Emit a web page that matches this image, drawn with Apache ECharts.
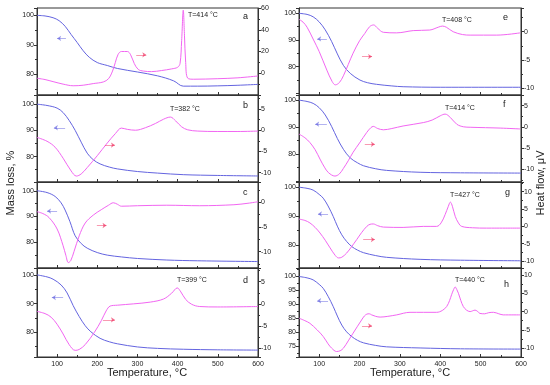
<!DOCTYPE html>
<html><head><meta charset="utf-8">
<script src="https://cdn.jsdelivr.net/npm/echarts@6/dist/echarts.min.js"></script>
<style>html,body{margin:0;padding:0;background:#fff}#c{width:550px;height:385px}</style>
</head><body><div id="c"></div>
<script>
// ---- data: [temperature °C, value] ----
const tgA = [[50,100],[70,99.8],[90,99.2],[105,98.2],[120,96.3],[135,93.5],[150,90.8],[165,88],[180,85.8],[200,84],[225,83],[250,82],[300,80.8],[350,79.5],[390,77.8],[414,76],[450,76],[500,76.1],[550,76.3],[600,76.6]];
const dtaA = [[50,-4.6],[70,-5.8],[90,-7.7],[115,-10],[140,-11.5],[165,-11],[190,-9.5],[215,-8],[228,-5],[238,2],[245,10],[252,17.5],[260,20],[275,20],[283,17],[292,9],[302,3.5],[315,2],[335,1.5],[360,2.5],[385,4],[400,5.5],[406,9],[410,30],[414,58],[417,35],[420,10],[425,-4.5],[440,-5.5],[500,-5],[550,-4.2],[600,-2.5]];
const tgB = [[50,100],[75,99.5],[100,98.5],[115,96.8],[130,93.8],[145,90],[160,85.5],[175,81.3],[190,78.8],[207,77.2],[230,76],[250,75.3],[300,74.3],[350,73.7],[414,73.1],[500,72.8],[600,72.6]];
const dtaB = [[50,-1.7],[75,-2.6],[95,-4],[115,-6.6],[135,-9.6],[148,-10.8],[160,-10.3],[175,-8.8],[200,-6],[225,-3],[245,-0.8],[260,0.5],[275,0.2],[295,0],[320,0.6],[345,1.6],[365,2.6],[382,3.1],[395,2.2],[410,0.8],[425,0.1],[450,-0.2],[500,-0.3],[550,-0.3],[600,-0.2]];
const tgC = [[50,100],[75,99.3],[95,97.8],[110,95.3],[120,92.5],[132,88],[145,82.5],[160,79.5],[175,77.7],[200,76],[225,75],[260,74.3],[300,73.7],[373,73.1],[450,72.8],[600,72.5]];
const dtaC = [[50,-1.9],[65,-2.3],[80,-3.1],[100,-5.4],[115,-8.8],[122,-10.8],[128,-12.2],[134,-11.8],[142,-10],[155,-6.8],[170,-4.2],[190,-2.6],[210,-1.5],[228,-0.6],[240,-0.1],[250,-0.4],[260,-0.8],[300,-0.7],[373,-0.6],[455,-0.7],[540,-0.5],[575,-0.2],[600,0.1]];
const tgD = [[50,100],[75,99.3],[90,98.5],[110,96.5],[125,93.7],[140,89.3],[155,85.5],[170,82.3],[184,80.2],[207,77.9],[230,76.7],[250,76],[300,74.9],[350,74.4],[414,74.1],[500,73.9],[600,73.8]];
const dtaD = [[50,-1.7],[70,-2.2],[85,-3],[100,-4.6],[115,-6.8],[130,-9.2],[145,-10.5],[155,-10.3],[170,-9.2],[193,-6.4],[210,-3.8],[222,-1.6],[232,-0.5],[250,-0.3],[290,0],[332,0.4],[365,1.1],[385,2.4],[399,3.6],[408,2.7],[420,1],[435,-0.1],[455,-0.6],[500,-0.7],[600,-0.6]];
const tgE = [[50,100],[70,99.6],[85,98.7],[100,96.8],[115,93.8],[131,89.4],[145,84.8],[160,80.5],[177,77.5],[201,75],[220,74],[242,73.4],[280,72.8],[308,72.5],[400,72.3],[600,72.3]];
const dtaE = [[50,2.2],[60,1.7],[70,0.8],[85,-1.3],[100,-3.5],[119,-6.8],[132,-8.8],[140,-9.4],[150,-9],[160,-7.8],[172,-5.8],[184,-3.8],[200,-1.6],[213,-0.3],[225,0.9],[235,1.2],[245,0.6],[259,-0.1],[292,-0.2],[333,0.2],[374,0.3],[395,0.8],[405,1],[415,0.8],[432,0],[455,-0.5],[474,-0.6],[540,-0.6],[598,-0.2]];
const tgF = [[50,100],[70,99.5],[85,98.8],[100,97.2],[115,94.5],[131,90.2],[145,85.8],[160,81.8],[177,78.6],[195,76.8],[210,75.7],[240,74.6],[267,74],[350,73.3],[450,73.1],[600,73]];
const dtaF = [[50,-1.7],[65,-2.6],[77,-3.7],[90,-5.4],[102,-7.6],[113,-9.5],[123,-10.8],[139,-11.6],[150,-11.1],[160,-9.8],[172,-8],[184,-6],[200,-3.8],[218,-1.3],[228,-0.2],[234,0.1],[245,-0.4],[259,-0.7],[280,-0.4],[308,0.2],[358,1],[380,1.6],[400,2.6],[412,3],[425,2.2],[441,0.6],[458,0],[474,-0.1],[550,-0.3],[598,-0.5]];
const tgG = [[50,100],[70,99.6],[85,99],[100,97.5],[110,96.2],[122,93.5],[135,89.8],[145,86.5],[156,83.5],[168,81.2],[181,79.4],[195,78.2],[210,77.3],[240,76.3],[267,75.7],[350,75],[450,74.7],[600,74.5]];
const dtaG = [[50,2.1],[65,1.7],[77,1],[90,-0.3],[102,-1.9],[115,-4],[127,-6.2],[140,-8.4],[148,-9.1],[156,-8.9],[168,-7.7],[180,-5.9],[193,-3.8],[205,-1.8],[218,0],[226,0.6],[234,0.7],[245,0.2],[259,-0.2],[308,-0.3],[358,0],[391,0],[402,1],[412,3.4],[420,5.8],[425,7],[430,5.8],[437,2.9],[445,1],[453,0],[480,-0.4],[515,-0.5],[598,-0.5]];
const tgH = [[50,99.8],[70,99.3],[85,98.6],[100,97],[110,95.6],[122,92.8],[135,89.1],[145,85.8],[156,82.6],[168,80.2],[181,78.5],[195,77.2],[210,76.3],[240,75.4],[267,74.9],[350,74.5],[450,74.2],[600,74.1]];
const dtaH = [[50,-1.8],[65,-2.5],[77,-3.2],[95,-5],[110,-6.8],[122,-8.8],[131,-10],[143,-10.9],[152,-10.7],[160,-10],[172,-8],[184,-5.9],[195,-4],[205,-2.3],[212,-1.2],[218,-0.7],[224,-0.6],[230,-0.9],[240,-1.3],[251,-1.5],[270,-1.3],[292,-0.9],[325,-0.2],[358,-0.2],[391,-0.2],[405,0.3],[416,1.4],[423,3],[428,4.6],[433,6],[437,6.7],[441,6],[445,5],[451,3],[457,1.4],[465,0.4],[474,0],[480,0.2],[486,0.4],[492,0.1],[498,-0.5],[510,-0.6],[520,-0.3],[532,-0.2],[545,-0.6],[556,-0.9],[598,-0.9]];

const panelLetters = ['a','b','c','d','e','f','g','h'];
const peakLabels = ['T=414 °C','T=382 °C','','T=399 °C','T=408 °C','T=414 °C','T=427 °C','T=440 °C'];
const xTitle = 'Temperature, °C';
const yLeftTitle = 'Mass loss, %';
const yRightTitle = 'Heat flow, μV';

// arrows: [tgFromT, tgToT, tgY, dtaFromT, dtaToT, dtaY]
const arrowPos = [
  [100,122,92.2, 297,322,16.9],
  [92,120,91, 219,244,-3.5],
  [75,100,92.1, 199,223,-4.7],
  [87,115,92.1, 214,244,-3.6],
  [95,119,90.4, 206,231,-4.4],
  [90,119,91.1, 213,238,-4.1],
  [97,122,90.7, 209,238,-3.8],
  [95,122,91.2, 206,231,-3.9]
];

// ---- layout (styles / positions) ----
const BLUE = '#6464e0', PINK = '#f266f2';
const tgs = [tgA,tgB,tgC,tgD,tgE,tgF,tgG,tgH];
const dtas = [dtaA,dtaB,dtaC,dtaD,dtaE,dtaF,dtaG,dtaH];
const colLeft = [37, 299], colW = [221, 222];
const rowTop = [8, 95, 182, 268], rowH = [87, 87, 86, 89];
const lRange = [[73,102.5,3],[70.3,103.5,3],[70,103.4,3],[71.4,102.4,3],[69.4,102,3],[69.7,101.9,3],[72,101.8,3],[71.3,102.8,6]];
const rRange = [[-20,60,4],[-12.2,8.3,4],[-13.3,4.1,4],[-12,8.1,4],[-11.2,4.2,3],[-13,7.5,4],[-12,12.8,5],[-12.4,11.9,5]];
const lStep = [10,10,10,10,10,10,10,5];
const rStep = [20,5,5,5,5,5,5,5];
const textPos = [ // peak label x,y ; letter x,y
  [188,15, 243,17],[170,109, 243,106],[0,0, 243,193],[177,280, 243,281],
  [442,20, 503,18],[445,108, 503,105],[450,195, 505,193],[455,280, 504,285]
];

const grids=[], xAxes=[], yAxes=[], series=[], graphics=[];
const lbl = {fontSize:7, color:'#222', fontFamily:'Liberation Sans, Arial, sans-serif'};
for (let i=0;i<8;i++){
  const col = i<4?0:1, row = i%4;
  grids.push({left:colLeft[col], top:rowTop[row], width:colW[col], height:rowH[row], show:true, borderColor:'#333', borderWidth:1, backgroundColor:'transparent'});
  const bottom = row===3;
  xAxes.push({type:'value', gridIndex:i, min:50, max:600, splitNumber:5, position:'bottom',
    axisLine:{show:true, onZero:false, lineStyle:{color:'#333', width:1}},
    axisTick:{show:true, inside:true, length:3, lineStyle:{color:'#333'}},
    minorTick:{show:true, splitNumber:2, length:2, lineStyle:{color:'#333'}},
    splitLine:{show:false},
    axisLabel:{show:bottom, ...lbl, margin:4, showMinLabel:false,
      formatter:v=> (v%100===0? String(v):'')}
  });
  const ls = lStep[i], rs = rStep[i];
  yAxes.push({type:'value', gridIndex:i, position:'left', min:lRange[i][0], max:lRange[i][1], splitNumber:lRange[i][2],
    axisLine:{show:true, onZero:false, lineStyle:{color:'#333'}},
    axisTick:{show:true, length:3, lineStyle:{color:'#333'}},
    minorTick:{show:true, splitNumber:2, length:2, lineStyle:{color:'#333'}},
    splitLine:{show:false},
    axisLabel:{...lbl, margin:3, showMinLabel:false, showMaxLabel:false,
      formatter:v=> (v>=74.9 && Math.abs(v/ls-Math.round(v/ls))<1e-6 ? String(Math.round(v)) : '')}
  });
  yAxes.push({type:'value', gridIndex:i, position:'right', min:rRange[i][0], max:rRange[i][1], splitNumber:rRange[i][2],
    axisLine:{show:true, onZero:false, lineStyle:{color:'#333'}},
    axisTick:{show:true, length:3, lineStyle:{color:'#333'}},
    minorTick:{show:true, splitNumber:2, length:2, lineStyle:{color:'#333'}},
    splitLine:{show:false},
    axisLabel:{...lbl, margin:3,
      formatter:v=> (Math.abs(v/rs-Math.round(v/rs))<1e-6 && !(i===0 && v<=-20) ? String(Math.round(v)) : '')}
  });
  const ap = arrowPos[i];
  series.push({type:'line', xAxisIndex:i, yAxisIndex:2*i, data:tgs[i], showSymbol:false, smooth:0.35,
    lineStyle:{color:BLUE, width:1}, itemStyle:{color:BLUE}, silent:true,
    markLine:{silent:true, symbol:['arrow','none'], symbolSize:[4,4], label:{show:false},
      lineStyle:{color:BLUE, width:0.7, type:'solid', opacity:0.7},
      data:[[{coord:[ap[0],ap[2]]},{coord:[ap[1],ap[2]]}]]}
  });
  series.push({type:'line', xAxisIndex:i, yAxisIndex:2*i+1, data:dtas[i], showSymbol:false, smooth:0.35,
    lineStyle:{color:PINK, width:1}, itemStyle:{color:PINK}, silent:true,
    markLine:{silent:true, symbol:['none','arrow'], symbolSize:[4,4], label:{show:false},
      lineStyle:{color:'#f03060', width:0.7, type:'solid', opacity:0.7},
      data:[[{coord:[ap[3],ap[5]]},{coord:[ap[4],ap[5]]}]]}
  });
  const tp = textPos[i];
  if (peakLabels[i]) graphics.push({type:'text', x:tp[0], y:tp[1], style:{text:peakLabels[i], fontSize:7, fill:'#222', fontFamily:'Liberation Sans, Arial, sans-serif', textVerticalAlign:'middle'}});
  graphics.push({type:'text', x:tp[2], y:tp[3], style:{text:panelLetters[i], fontSize:9, fill:'#222', fontFamily:'Liberation Sans, Arial, sans-serif', textVerticalAlign:'middle'}});
}
graphics.push({type:'text', x:11, y:183, rotation:Math.PI/2, style:{text:yLeftTitle, fontSize:11, fill:'#222', fontFamily:'Liberation Sans, Arial, sans-serif', textAlign:'center', textVerticalAlign:'middle'}});
graphics.push({type:'text', x:541, y:183, rotation:Math.PI/2, style:{text:yRightTitle, fontSize:11, fill:'#222', fontFamily:'Liberation Sans, Arial, sans-serif', textAlign:'center', textVerticalAlign:'middle'}});
graphics.push({type:'text', x:147, y:373, style:{text:xTitle, fontSize:11, fill:'#222', fontFamily:'Liberation Sans, Arial, sans-serif', textAlign:'center', textVerticalAlign:'middle'}});
graphics.push({type:'text', x:410, y:373, style:{text:xTitle, fontSize:11, fill:'#222', fontFamily:'Liberation Sans, Arial, sans-serif', textAlign:'center', textVerticalAlign:'middle'}});

const chart = echarts.init(document.getElementById('c'), null, {renderer:'canvas'});
chart.setOption({animation:false, backgroundColor:'#fff', grid:grids, xAxis:xAxes, yAxis:yAxes, series, graphic:graphics});
</script></body></html>
